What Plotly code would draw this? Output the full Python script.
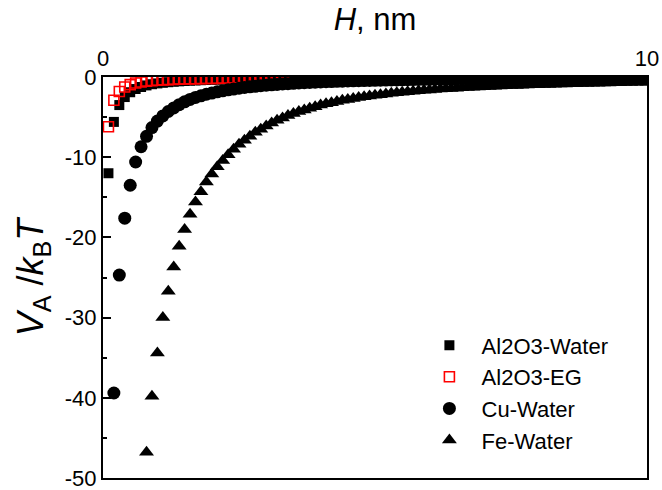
import plotly.graph_objects as go

H = [0.1, 0.2, 0.3, 0.4, 0.5, 0.6, 0.7, 0.8, 0.9, 1.0,
     1.1, 1.2, 1.3, 1.4, 1.5, 1.6, 1.7, 1.8, 1.9, 2.0,
     2.1, 2.2, 2.3, 2.4, 2.5, 2.6, 2.7, 2.8, 2.9, 3.0,
     3.1, 3.2, 3.3, 3.4, 3.5, 3.6, 3.7, 3.8, 3.9, 4.0,
     4.1, 4.2, 4.3, 4.4, 4.5, 4.6, 4.7, 4.8, 4.9, 5.0,
     5.1, 5.2, 5.3, 5.4, 5.5, 5.6, 5.7, 5.8, 5.9, 6.0,
     6.1, 6.2, 6.3, 6.4, 6.5, 6.6, 6.7, 6.8, 6.9, 7.0,
     7.1, 7.2, 7.3, 7.4, 7.5, 7.6, 7.7, 7.8, 7.9, 8.0,
     8.1, 8.2, 8.3, 8.4, 8.5, 8.6, 8.7, 8.8, 8.9, 9.0,
     9.1, 9.2, 9.3, 9.4, 9.5, 9.6, 9.7, 9.8, 9.9, 10.0]

al2o3_water = [-12.0, -5.6, -3.5, -2.5, -1.9, -1.5, -1.25, -1.05, -0.9, -0.8,
               -0.72, -0.65, -0.59, -0.54, -0.5, -0.46, -0.43, -0.4, -0.37, -0.35,
               -0.33, -0.31, -0.29, -0.28, -0.26, -0.25, -0.24, -0.23, -0.22, -0.21,
               -0.2, -0.19, -0.18, -0.18, -0.17, -0.16, -0.16, -0.15, -0.15, -0.14,
               -0.14, -0.13, -0.13, -0.12, -0.12, -0.12, -0.11, -0.11, -0.11, -0.1,
               -0.1, -0.1, -0.09, -0.09, -0.09, -0.09, -0.08, -0.08, -0.08, -0.08,
               -0.08, -0.07, -0.07, -0.07, -0.07, -0.07, -0.07, -0.06, -0.06, -0.06,
               -0.06, -0.06, -0.06, -0.06, -0.06, -0.06, -0.05, -0.05, -0.05, -0.05,
               -0.05, -0.05, -0.05, -0.05, -0.05, -0.05, -0.05, -0.05, -0.05, -0.05,
               -0.04, -0.04, -0.04, -0.04, -0.04, -0.04, -0.04, -0.04, -0.04, -0.04]

al2o3_eg = [-6.2, -2.9, -1.8, -1.25, -0.95, -0.75, -0.62, -0.52, -0.45, -0.4,
            -0.36, -0.33, -0.3, -0.27, -0.25, -0.23, -0.22, -0.2, -0.19, -0.18,
            -0.17, -0.16, -0.15, -0.14, -0.14, -0.13, -0.12, -0.12, -0.11, -0.11,
            -0.1, -0.1, -0.1, -0.09, -0.09, -0.09, -0.08, -0.08, -0.08, -0.07,
            -0.07, -0.07, -0.07, -0.07, -0.07, -0.06, -0.06, -0.06, -0.06, -0.06,
            -0.06, -0.06, -0.06, -0.05, -0.05, -0.05, -0.05, -0.05, -0.05, -0.05,
            -0.05, -0.05, -0.05, -0.05, -0.04, -0.04, -0.04, -0.04, -0.04, -0.04,
            -0.04, -0.04, -0.04, -0.04, -0.04, -0.04, -0.04, -0.04, -0.04, -0.04,
            -0.03, -0.03, -0.03, -0.03, -0.03, -0.03, -0.03, -0.03, -0.03, -0.03,
            -0.03, -0.03, -0.03, -0.03, -0.03, -0.03, -0.03, -0.03, -0.03, -0.03]

cu_water = [None, -39.4, -24.7, -17.6, -13.5, -10.6, -8.7, -7.4, -6.3, -5.5,
            -4.85, -4.3, -3.85, -3.45, -3.1, -2.8, -2.55, -2.35, -2.15, -2.0,
            -1.85, -1.72, -1.6, -1.5, -1.4, -1.31, -1.23, -1.16, -1.09, -1.03,
            -0.97, -0.92, -0.87, -0.83, -0.79, -0.75, -0.71, -0.68, -0.65, -0.62,
            -0.59, -0.57, -0.54, -0.52, -0.5, -0.48, -0.46, -0.44, -0.43, -0.41,
            -0.4, -0.38, -0.37, -0.36, -0.35, -0.33, -0.32, -0.31, -0.3, -0.29,
            -0.28, -0.28, -0.27, -0.26, -0.25, -0.25, -0.24, -0.23, -0.23, -0.22,
            -0.22, -0.21, -0.21, -0.2, -0.2, -0.19, -0.19, -0.18, -0.18, -0.18,
            -0.17, -0.17, -0.17, -0.16, -0.16, -0.16, -0.15, -0.15, -0.15, -0.14,
            -0.14, -0.14, -0.14, -0.13, -0.13, -0.13, -0.13, -0.12, -0.12, -0.12]

fe_water = [None, None, None, None, None, None, None, -46.8, -39.8, -34.4,
            -30.0, -26.7, -23.7, -21.1, -19.0, -17.1, -15.6, -14.3, -13.1, -12.1,
            -11.2, -10.4, -9.7, -9.0, -8.4, -7.9, -7.4, -6.9, -6.5, -6.1,
            -5.75, -5.4, -5.1, -4.8, -4.55, -4.3, -4.1, -3.9, -3.7, -3.5,
            -3.35, -3.2, -3.05, -2.9, -2.8, -2.68, -2.57, -2.47, -2.37, -2.28,
            -2.2, -2.12, -2.04, -1.97, -1.9, -1.84, -1.78, -1.72, -1.66, -1.61,
            -1.56, -1.51, -1.47, -1.43, -1.39, -1.35, -1.31, -1.28, -1.24, -1.21,
            -1.18, -1.15, -1.12, -1.1, -1.07, -1.05, -1.02, -1.0, -0.98, -0.96,
            -0.94, -0.92, -0.9, -0.88, -0.86, -0.84, -0.83, -0.81, -0.8, -0.78,
            -0.77, -0.75, -0.74, -0.72, -0.71, -0.7, -0.69, -0.67, -0.66, -0.65]

series_names = ["Al2O3-Water", "Al2O3-EG", "Cu-Water", "Fe-Water"]
x_ticks = [0, 10]
x_tick_labels = ["0", "10"]
y_ticks = [0, -10, -20, -30, -40, -50]
y_tick_labels = ["0", "-10", "-20", "-30", "-40", "-50"]

FONT = "Arial, Liberation Sans, sans-serif"
pad = "\u00a0\u00a0"

fig = go.Figure()
fig.add_trace(go.Scatter(x=H, y=al2o3_water, mode="markers", name=pad + series_names[0],
                         marker=dict(symbol="square", size=10, color="black", line=dict(width=0))))
fig.add_trace(go.Scatter(x=H, y=al2o3_eg, mode="markers", name=pad + series_names[1],
                         marker=dict(symbol="square-open", size=10, color="#ff0000", line=dict(width=1.6, color="#ff0000"))))
fig.add_trace(go.Scatter(x=H, y=cu_water, mode="markers", name=pad + series_names[2],
                         marker=dict(symbol="circle", size=13, color="black", line=dict(width=0))))
fig.add_trace(go.Scatter(x=H, y=fe_water, mode="markers", name=pad + series_names[3],
                         marker=dict(symbol="triangle-up", size=13, color="black", line=dict(width=0))))

fig.update_layout(
    width=662, height=490,
    margin=dict(l=103, r=15, t=77, b=12),
    paper_bgcolor="white", plot_bgcolor="white",
    font=dict(family=FONT, size=22, color="black"),
    showlegend=True,
    legend=dict(x=0.6, y=0.383, xanchor="left", yanchor="top",
                bgcolor="rgba(0,0,0,0)", borderwidth=0,
                font=dict(family=FONT, size=22, color="black")),
    xaxis=dict(
        side="top", range=[0, 10], tickvals=x_ticks, ticktext=x_tick_labels,
        ticks="inside", ticklen=8, tickwidth=2, tickcolor="black",
        showline=True, linewidth=2, linecolor="black", mirror=True,
        showgrid=False, zeroline=False, automargin=False,
        ticklabeloverflow="allow",
        tickfont=dict(size=22),
        title=dict(text="<i>H</i>, nm", font=dict(size=31), standoff=6),
    ),
    yaxis=dict(
        range=[-50, 0], tickvals=y_ticks, ticktext=y_tick_labels,
        ticks="inside", ticklen=8, tickwidth=2, tickcolor="black",
        minor=dict(ticks="inside", ticklen=4, tickwidth=2, tickcolor="black",
                   tickvals=[-5, -15, -25, -35, -45]),
        showline=True, linewidth=2, linecolor="black", mirror=True,
        showgrid=False, zeroline=False, automargin=False,
        ticklabeloverflow="allow",
        tickfont=dict(size=22),
        title=dict(text="<i>V</i><sub>A</sub> /<i>k</i><sub>B</sub><i>T</i>", font=dict(size=36), standoff=10),
    ),
)

# remove the page's default margins so the 662x490 figure fills the window exactly
page_fix = ("document.documentElement.style.margin='0';document.body.style.margin='0';"
            "document.documentElement.style.overflow='hidden';document.body.style.overflow='hidden';")

fig.write_html("out.html", config={"displayModeBar": False}, post_script=page_fix)
